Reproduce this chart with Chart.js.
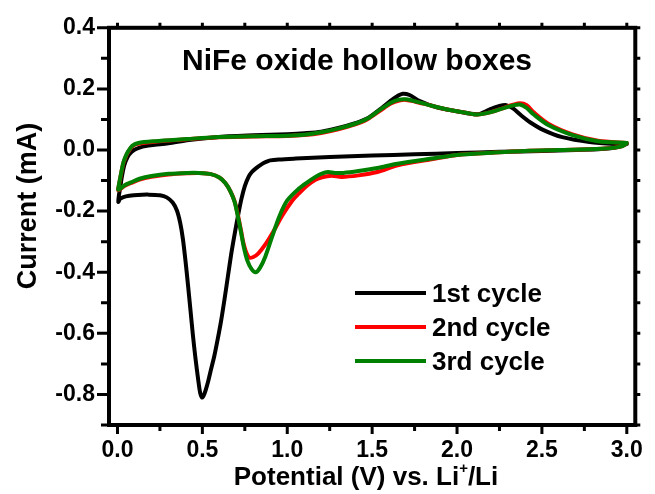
<!DOCTYPE html>
<html>
<head>
<meta charset="utf-8">
<script src="https://cdn.jsdelivr.net/npm/chart.js@4/dist/chart.umd.min.js"></script>
<style>
  html, body { margin: 0; padding: 0; background: #fff; }
  #wrap { width: 655px; height: 494px; position: relative; }
</style>
</head>
<body>
<div id="wrap"><canvas id="cv"></canvas></div>
<script>
// Cyclic voltammograms of NiFe oxide hollow boxes, first three cycles.
const FONT = "'Liberation Sans', Arial, Helvetica, sans-serif";

const plotTitle = 'NiFe oxide hollow boxes';
const yAxisTitle = 'Current (mA)';
const xAxisTitleParts = ['Potential (V) vs. Li', '+', '/Li'];   // middle part is a superscript

const seriesLabels = ['1st cycle', '2nd cycle', '3rd cycle'];
const seriesColors = ['#000000', '#ff0000', '#008000'];

const xMajorTicks = [0, 0.5, 1.0, 1.5, 2.0, 2.5, 3.0];
const xMinorTicks = [0.25, 0.75, 1.25, 1.75, 2.25, 2.75];
const yMajorTicks = [-0.8, -0.6, -0.4, -0.2, 0.0, 0.2, 0.4];
const yMinorTicks = [-0.9, -0.7, -0.5, -0.3, -0.1, 0.1, 0.3];

// 1st cycle: cathodic sweep 3.0 V -> 0.005 V, then anodic sweep back to 3.0 V
const cycle1Potential = [
  3.00, 2.95, 2.85, 2.70, 2.50, 2.25, 2.00, 1.75, 1.50, 1.25, 1.05, 0.95, 0.90, 0.875, 0.85,
  0.815, 0.79, 0.77, 0.75, 0.73, 0.71, 0.69, 0.67, 0.65, 0.63, 0.61, 0.59, 0.57, 0.55, 0.535,
  0.52, 0.508, 0.498, 0.487, 0.475, 0.46, 0.445, 0.43, 0.415, 0.40, 0.385, 0.37, 0.35, 0.325,
  0.29, 0.25, 0.18, 0.12, 0.07, 0.035, 0.015, 0.005,
  0.008, 0.015, 0.025, 0.04, 0.06, 0.08, 0.10, 0.13, 0.165, 0.22, 0.30, 0.42, 0.58, 0.80, 1.00,
  1.10, 1.20, 1.30, 1.40, 1.47, 1.55, 1.61, 1.65, 1.68, 1.72, 1.77, 1.88, 2.00, 2.12, 2.19, 2.25,
  2.29, 2.33, 2.38, 2.43, 2.51, 2.62, 2.78, 2.93, 3.00
];
const cycle1Current = [
  0.020, 0.010, 0.003, 0.000, -0.003, -0.006, -0.010, -0.014, -0.018, -0.023, -0.028, -0.031, -0.034, -0.039, -0.046,
  -0.060, -0.073, -0.090, -0.118, -0.160, -0.215, -0.275, -0.340, -0.415, -0.490, -0.560, -0.620, -0.675, -0.720, -0.755,
  -0.785, -0.803, -0.810, -0.795, -0.750, -0.685, -0.610, -0.525, -0.440, -0.360, -0.290, -0.240, -0.198, -0.172,
  -0.155, -0.148, -0.146, -0.147, -0.150, -0.154, -0.160, -0.170,
  -0.150, -0.127, -0.090, -0.050, -0.022, -0.008, 0.001, 0.008, 0.013, 0.017, 0.022, 0.033, 0.042, 0.048, 0.052,
  0.055, 0.060, 0.072, 0.088, 0.103, 0.135, 0.162, 0.177, 0.184, 0.180, 0.163, 0.140, 0.127, 0.117, 0.132, 0.144,
  0.147, 0.136, 0.112, 0.091, 0.065, 0.042, 0.026, 0.020, 0.020
];

// 2nd cycle
const cycle2Potential = [
  3.00, 2.97, 2.85, 2.60, 2.40, 2.20, 2.00, 1.85, 1.65, 1.53, 1.42, 1.32, 1.26, 1.20, 1.166,
  1.12, 1.067, 1.03, 0.97, 0.92, 0.87, 0.83, 0.80, 0.775, 0.755, 0.74, 0.728, 0.71, 0.69, 0.665,
  0.635, 0.60, 0.55, 0.48, 0.41, 0.30, 0.20, 0.13, 0.08, 0.04, 0.005,
  0.008, 0.015, 0.025, 0.035, 0.05, 0.06, 0.087, 0.122, 0.22, 0.41, 0.57, 0.80, 1.00, 1.10, 1.20,
  1.30, 1.40, 1.47, 1.55, 1.61, 1.66, 1.70, 1.75, 1.85, 1.95, 2.05, 2.12, 2.20, 2.28, 2.33, 2.37,
  2.41, 2.45, 2.54, 2.68, 2.83, 3.00
];
const cycle2Current = [
  0.023, 0.012, 0.004, 0.000, -0.003, -0.009, -0.016, -0.030, -0.050, -0.072, -0.083, -0.088, -0.084, -0.090, -0.097,
  -0.115, -0.143, -0.165, -0.215, -0.265, -0.310, -0.338, -0.350, -0.352, -0.330, -0.300, -0.265, -0.215, -0.168, -0.135,
  -0.108, -0.090, -0.079, -0.075, -0.076, -0.080, -0.088, -0.097, -0.108, -0.118, -0.132,
  -0.117, -0.096, -0.067, -0.042, -0.020, -0.009, 0.012, 0.020, 0.027, 0.035, 0.041, 0.044, 0.046, 0.049, 0.056,
  0.068, 0.084, 0.100, 0.130, 0.152, 0.162, 0.164, 0.159, 0.145, 0.132, 0.122, 0.116, 0.124, 0.139, 0.148, 0.153,
  0.147, 0.124, 0.085, 0.051, 0.030, 0.023
];

// 3rd cycle
const cycle3Potential = [
  3.00, 2.97, 2.85, 2.60, 2.40, 2.20, 2.00, 1.85, 1.65, 1.53, 1.42, 1.33, 1.28, 1.24, 1.20,
  1.166, 1.12, 1.067, 1.00, 0.955, 0.91, 0.87, 0.84, 0.815, 0.79, 0.765, 0.745, 0.728, 0.71, 0.69,
  0.665, 0.635, 0.60, 0.55, 0.48, 0.41, 0.30, 0.20, 0.13, 0.08, 0.04, 0.005,
  0.008, 0.015, 0.025, 0.035, 0.05, 0.06, 0.087, 0.122, 0.22, 0.41, 0.57, 0.80, 1.00, 1.10, 1.20,
  1.30, 1.40, 1.47, 1.55, 1.61, 1.66, 1.70, 1.75, 1.85, 1.95, 2.05, 2.12, 2.20, 2.28, 2.33, 2.37,
  2.41, 2.45, 2.54, 2.68, 2.83, 3.00
];
const cycle3Current = [
  0.023, 0.012, 0.004, 0.000, -0.003, -0.009, -0.016, -0.028, -0.045, -0.059, -0.069, -0.075, -0.075, -0.072, -0.078,
  -0.088, -0.105, -0.127, -0.165, -0.215, -0.285, -0.350, -0.385, -0.400, -0.390, -0.362, -0.320, -0.270, -0.220, -0.170,
  -0.135, -0.108, -0.090, -0.079, -0.075, -0.075, -0.078, -0.085, -0.094, -0.106, -0.116, -0.130,
  -0.115, -0.094, -0.065, -0.040, -0.018, -0.007, 0.014, 0.023, 0.029, 0.036, 0.042, 0.045, 0.047, 0.050, 0.058,
  0.070, 0.086, 0.102, 0.133, 0.155, 0.165, 0.166, 0.160, 0.145, 0.132, 0.122, 0.116, 0.124, 0.138, 0.146, 0.149,
  0.138, 0.117, 0.081, 0.049, 0.029, 0.023
];

const toPoints = (xs, ys) => xs.map((v, i) => ({ x: v, y: ys[i] }));
const cycles = [
  toPoints(cycle1Potential, cycle1Current),
  toPoints(cycle2Potential, cycle2Current),
  toPoints(cycle3Potential, cycle3Current)
];

// Frame plus major/minor ticks on all four sides
const frameAndTicks = {
  id: 'frameAndTicks',
  afterDatasetsDraw(chart) {
    const { ctx, chartArea: a, scales: { x, y } } = chart;
    ctx.save();
    ctx.strokeStyle = '#000';
    ctx.lineCap = 'butt';
    ctx.lineWidth = 3;
    ctx.beginPath();
    xMajorTicks.forEach(v => {
      const p = x.getPixelForValue(v);
      ctx.moveTo(p, a.bottom); ctx.lineTo(p, a.bottom + 9);
    });
    xMinorTicks.forEach(v => {
      const p = x.getPixelForValue(v);
      ctx.moveTo(p, a.bottom); ctx.lineTo(p, a.bottom + 6);
    });
    yMajorTicks.forEach(v => {
      const p = y.getPixelForValue(v);
      ctx.moveTo(a.left, p); ctx.lineTo(a.left - 12, p);
    });
    yMinorTicks.forEach(v => {
      const p = y.getPixelForValue(v);
      ctx.moveTo(a.left, p); ctx.lineTo(a.left - 8, p);
    });
    xMajorTicks.concat(xMinorTicks).forEach(v => {
      const p = x.getPixelForValue(v);
      ctx.moveTo(p, a.top); ctx.lineTo(p, a.top - 5);
    });
    yMajorTicks.concat(yMinorTicks).forEach(v => {
      const p = y.getPixelForValue(v);
      ctx.moveTo(a.right, p); ctx.lineTo(a.right + 5, p);
    });
    ctx.stroke();
    ctx.lineWidth = 4;
    ctx.strokeRect(a.left, a.top, a.right - a.left, a.bottom - a.top);
    ctx.restore();
  }
};

// Titles and the in-plot legend
const annotations = {
  id: 'annotations',
  afterDraw(chart) {
    const { ctx } = chart;
    ctx.save();
    ctx.fillStyle = '#000';

    // plot title inside the frame
    ctx.font = `bold 30px ${FONT}`;
    ctx.textAlign = 'left';
    ctx.textBaseline = 'alphabetic';
    ctx.fillText(plotTitle, 182, 70);

    // y axis title
    ctx.save();
    ctx.translate(29, 206);
    ctx.rotate(-Math.PI / 2);
    ctx.font = `bold 27px ${FONT}`;
    ctx.textAlign = 'center';
    ctx.textBaseline = 'middle';
    ctx.fillText(yAxisTitle, 0, 0);
    ctx.restore();

    // x axis title with superscript
    const mainFont = `bold 26px ${FONT}`;
    const supFont = `bold 15px ${FONT}`;
    ctx.font = mainFont;
    const w0 = ctx.measureText(xAxisTitleParts[0]).width;
    const w2 = ctx.measureText(xAxisTitleParts[2]).width;
    ctx.font = supFont;
    const w1 = ctx.measureText(xAxisTitleParts[1]).width;
    let tx = 366 - (w0 + w1 + w2) / 2;
    const base = 485;
    ctx.textAlign = 'left';
    ctx.font = mainFont;
    ctx.fillText(xAxisTitleParts[0], tx, base);
    tx += w0;
    ctx.font = supFont;
    ctx.fillText(xAxisTitleParts[1], tx, base - 12);
    tx += w1;
    ctx.font = mainFont;
    ctx.fillText(xAxisTitleParts[2], tx, base);

    // legend
    const rows = [293, 327, 361];
    chart.data.datasets.forEach((ds, i) => {
      const ly = rows[i];
      ctx.strokeStyle = ds.borderColor;
      ctx.lineWidth = 4;
      ctx.lineCap = 'butt';
      ctx.beginPath();
      ctx.moveTo(355, ly);
      ctx.lineTo(426, ly);
      ctx.stroke();
      ctx.fillStyle = '#000';
      ctx.font = `bold 26px ${FONT}`;
      ctx.textBaseline = 'middle';
      ctx.fillText(ds.label, 432, ly + 2);
    });
    ctx.restore();
  }
};

new Chart(document.getElementById('cv'), {
  type: 'scatter',
  data: {
    datasets: cycles.map((pts, i) => ({
      label: seriesLabels[i],
      data: pts,
      showLine: true,
      borderColor: seriesColors[i],
      backgroundColor: seriesColors[i],
      borderWidth: 4,
      pointRadius: 0,
      tension: 0.3,
      fill: false,
      borderJoinStyle: 'round',
      borderCapStyle: 'round',
      order: 3 - i
    }))
  },
  options: {
    responsive: true,
    maintainAspectRatio: false,
    animation: false,
    events: [],
    layout: { padding: { left: 0, top: 25, right: 13, bottom: 0 } },
    plugins: {
      legend: { display: false },
      tooltip: { enabled: false },
      title: { display: false }
    },
    scales: {
      x: {
        type: 'linear',
        min: -0.05,
        max: 3.05,
        afterBuildTicks: s => { s.ticks = xMajorTicks.map(v => ({ value: v })); },
        afterFit: s => { s.height = 69; },
        grid: { display: false, drawTicks: false },
        border: { display: false },
        ticks: {
          padding: 12,
          color: '#000',
          font: { family: FONT, size: 23, weight: 'bold' },
          callback: v => Number(v).toFixed(1),
          maxRotation: 0,
          autoSkip: false
        }
      },
      y: {
        type: 'linear',
        min: -0.9,
        max: 0.4,
        afterBuildTicks: s => { s.ticks = yMajorTicks.map(v => ({ value: v })); },
        afterFit: s => { s.width = 109; },
        grid: { display: false, drawTicks: false },
        border: { display: false },
        ticks: {
          padding: 14,
          color: '#000',
          font: { family: FONT, size: 23, weight: 'bold' },
          callback: v => Number(v).toFixed(1),
          autoSkip: false
        }
      }
    }
  },
  plugins: [frameAndTicks, annotations]
});
</script>
</body>
</html>
